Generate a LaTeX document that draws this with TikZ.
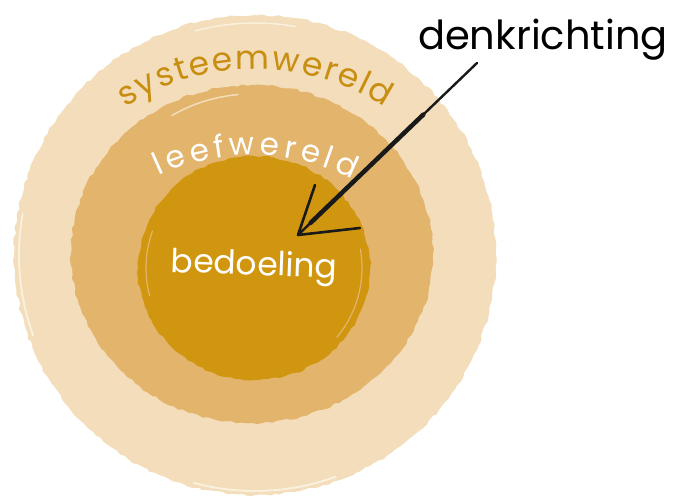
\documentclass[tikz,border=0pt]{standalone}
\usepackage{fontspec}
\setmainfont{Poppins}
\usetikzlibrary{decorations.text,decorations.pathmorphing,calc}
\definecolor{ringout}{HTML}{F3DDBA}
\definecolor{ringmid}{HTML}{E2B46C}
\definecolor{ringin}{HTML}{D1960F}
\definecolor{goldtxt}{HTML}{C78E10}
\definecolor{streak}{HTML}{FAF0DE}
\begin{document}
\begin{tikzpicture}[x=1pt,y=1pt]
\pgfmathsetseed{7}
\tikzset{
  ringlabel/.style={font=\fontsize{33}{35}\selectfont},
  rough/.style={decorate, decoration={random steps, segment length=5pt, amplitude=1.2pt}},
  arrowstroke/.style={draw=black!90, line width=2.4pt, line cap=round},
  arrowbody/.style={draw=black!90, line width=4.5pt, line cap=round},
  barbstroke/.style={draw=black!90, line width=2.6pt, line cap=round},
}
\useasboundingbox (0,0) rectangle (673,502);
% rings
\fill[ringout, rough] (255,247) ellipse [x radius=241, y radius=240];
\draw[streak, line width=2pt, line cap=round] (255,247) ++(200:236) arc[start angle=200, end angle=170, radius=236];
\draw[streak, line width=1.5pt, line cap=round] (255,247) ++(105:232) arc[start angle=105, end angle=80, radius=232];
\draw[streak, line width=2pt, line cap=round] (255,247) ++(290:236) arc[start angle=290, end angle=255, radius=236];
\fill[ringmid, rough] (252,248) ellipse [x radius=181, y radius=169];
\draw[ringout, line width=1.5pt, line cap=round] (252,248) ++(120:160) arc[start angle=120, end angle=95, radius=160];
\fill[ringin, rough] (254,234) ellipse [x radius=116, y radius=112];
\draw[ringmid, line width=1.2pt, line cap=round] (254,234) ++(10:108) arc[start angle=10, end angle=-40, radius=108];
\draw[ringmid, line width=1.2pt, line cap=round] (254,234) ++(195:108) arc[start angle=195, end angle=160, radius=108];
% curved labels
\path[decorate, decoration={text along path, text align=fit to path,
  text={|\fontsize{33}{35}\selectfont\color{goldtxt}|systeemwereld}}]
  (255,195) ++(123:238) arc[start angle=123, end angle=57, radius=238];
\path[decorate, decoration={text along path, text align=fit to path,
  text={|\fontsize{31}{33}\selectfont\color{white}|leefwereld}}]
  (252,126) ++(115:221) arc[start angle=115, end angle=63, radius=221];
\node[ringlabel, text=white, anchor=base, rotate=-2] (bedoeling) at (254,227) {bedoeling};
% denkrichting label and arrow
\node[font=\fontsize{40}{42}\selectfont, text=black, anchor=base] (denk) at (543,452) {denkrichting};
\coordinate (tail) at (477,439);
\coordinate (tip) at (298,267);
\coordinate (barbA) at (315,317);
\coordinate (barbB) at (360,274);
\draw[arrowstroke] (tail) -- (tip);
\draw[arrowbody] ($(tail)!0.3!(tip)$) -- ($(tail)!0.93!(tip)$);
\draw[barbstroke] (tip) -- (barbA);
\draw[barbstroke] (tip) -- (barbB);
\end{tikzpicture}
\end{document}
